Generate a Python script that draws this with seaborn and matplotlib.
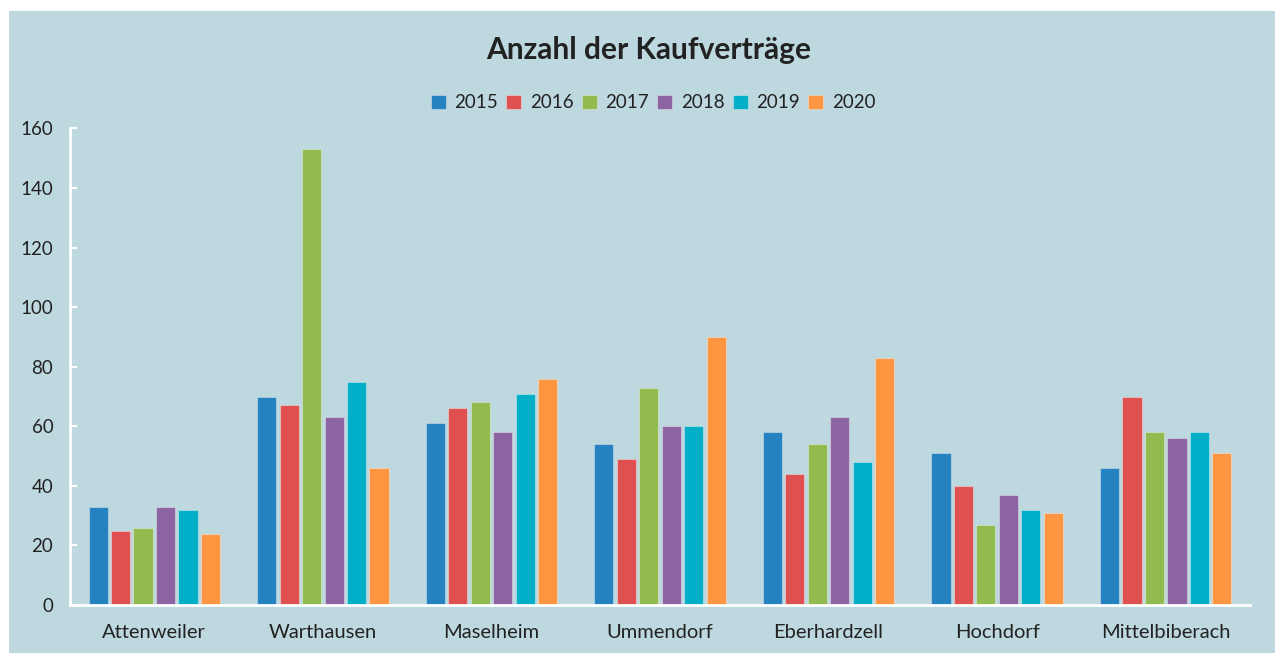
import pandas as pd
import seaborn as sns
import matplotlib.pyplot as plt
from matplotlib.patches import Rectangle

orte = ['Attenweiler', 'Warthausen', 'Maselheim', 'Ummendorf',
        'Eberhardzell', 'Hochdorf', 'Mittelbiberach']
jahre = ['2015', '2016', '2017', '2018', '2019', '2020']

v2015 = [33, 70, 61, 54, 58, 51, 46]
v2016 = [25, 67, 66, 49, 44, 40, 70]
v2017 = [26, 153, 68, 73, 54, 27, 58]
v2018 = [33, 63, 58, 60, 63, 37, 56]
v2019 = [32, 75, 71, 60, 48, 32, 58]
v2020 = [24, 46, 76, 90, 83, 31, 51]

farben = ['#2581C0', '#DF5150', '#91BA4F', '#8C63A3', '#00AEC7', '#FE9540']

def kaufvertraege():
    werte = [v2015, v2016, v2017, v2018, v2019, v2020]
    rows = []
    for jahr, vals in zip(jahre, werte):
        for ort, v in zip(orte, vals):
            rows.append({'Ort': ort, 'Jahr': jahr, 'Anzahl': v})
    df = pd.DataFrame(rows)

    sns.set_theme(style="ticks")
    plt.rcParams['font.family'] = ['Lato', 'DejaVu Sans']
    bg = '#BED8DF'

    fig = plt.figure(figsize=(12.81, 6.56), dpi=100)
    fig.patch.set_facecolor('white')
    fig.patches.append(Rectangle((9 / 1281, 1 - 653 / 656), 1266 / 1281, 642 / 656,
                                 transform=fig.transFigure, facecolor=bg,
                                 edgecolor='none', zorder=-10))

    ax = fig.add_axes([70 / 1281, 1 - 605 / 656, 1180 / 1281, 476.5 / 656])
    ax.set_facecolor(bg)

    sns.barplot(data=df, x='Ort', y='Anzahl', hue='Jahr', hue_order=jahre,
                order=orte, palette=farben, saturation=1, width=0.8, gap=0.15, ax=ax,
                edgecolor=(1, 1, 1, 0.35), linewidth=0.8)

    ax.set_ylim(0, 160)
    ax.set_xlim(-0.5, 6.5)
    ax.set_yticks(range(0, 161, 20))
    ax.set_xlabel('')
    ax.set_ylabel('')
    for s in ['top', 'right']:
        ax.spines[s].set_visible(False)
    for s in ['left', 'bottom']:
        ax.spines[s].set_color('white')
        ax.spines[s].set_linewidth(2)
    ax.tick_params(axis='y', direction='in', color='white', width=1.5, length=5,
                   labelsize=13.5, labelcolor='#222222', pad=12)
    ax.tick_params(axis='x', length=0, labelsize=14.5, labelcolor='#222222', pad=14)

    handles, labels = ax.get_legend_handles_labels()
    ax.legend(handles, labels, ncol=6, frameon=False, loc='center',
              bbox_to_anchor=(653 / 1281, 1 - 103 / 656), bbox_transform=fig.transFigure,
              fontsize=13.5, handlelength=0.8, handleheight=0.8,
              handletextpad=0.45, columnspacing=0.45, labelcolor='#222222')

    fig.text(0.506, 1 - 50 / 656, 'Anzahl der Kaufverträge', ha='center', va='center',
             fontsize=21.5, fontweight='bold', color='#222222')

    plt.savefig('out.png', dpi=100)

kaufvertraege()
